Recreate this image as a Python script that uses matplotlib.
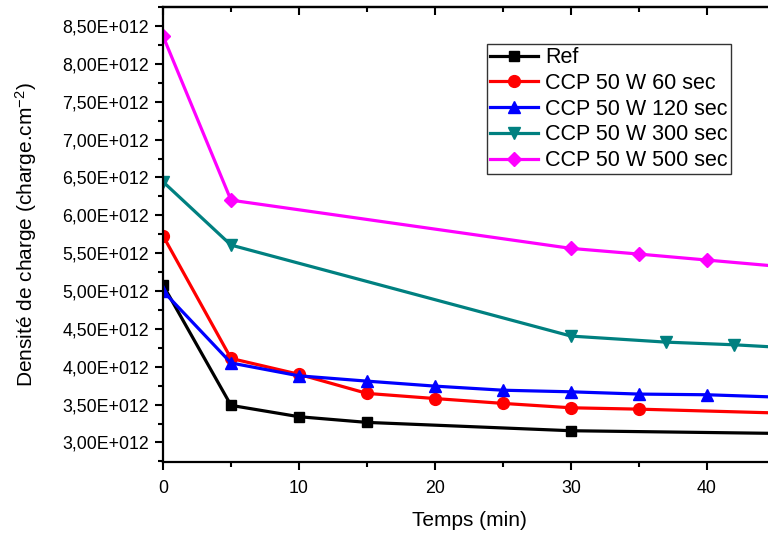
import matplotlib
matplotlib.use("Agg")
import matplotlib.pyplot as plt
from matplotlib.ticker import FuncFormatter, MultipleLocator

plt.rcParams['font.family'] = ['Liberation Sans', 'DejaVu Sans']
plt.rcParams['mathtext.fontset'] = 'custom'
plt.rcParams['mathtext.rm'] = 'Liberation Sans'
plt.rcParams['mathtext.it'] = 'Liberation Sans:italic'
plt.rcParams['mathtext.bf'] = 'Liberation Sans:bold'

# Data (charge density in units of 1e12 charge/cm^2)
x_ref = [0, 5, 10, 15, 30, 45]
y_ref = [5.08, 3.49, 3.34, 3.265, 3.155, 3.12]

x_60 = [0, 5, 10, 15, 20, 25, 30, 35, 45]
y_60 = [5.73, 4.11, 3.90, 3.648, 3.58, 3.516, 3.458, 3.44, 3.39]

x_120 = [0, 5, 10, 15, 20, 25, 30, 35, 40, 45]
y_120 = [5.00, 4.05, 3.88, 3.81, 3.744, 3.69, 3.669, 3.639, 3.63, 3.60]

x_300 = [0, 5, 30, 37, 42, 45]
y_300 = [6.443, 5.607, 4.405, 4.325, 4.29, 4.26]

x_500 = [0, 5, 30, 35, 40, 45]
y_500 = [8.368, 6.20, 5.563, 5.488, 5.409, 5.33]

labels = ["Ref", "CCP 50 W 60 sec", "CCP 50 W 120 sec", "CCP 50 W 300 sec", "CCP 50 W 500 sec"]

fig = plt.figure(figsize=(7.68, 5.35), dpi=100)
W, H = 768, 535
left, right, top, bottom = 163, 775, 6.7, 462
ax = fig.add_axes([left / W, (H - bottom) / H, (right - left) / W, (bottom - top) / H])

series = [
    (x_ref, y_ref, "#000000", "s", 7.5),
    (x_60, y_60, "#FF0000", "o", 8.5),
    (x_120, y_120, "#0000FF", "^", 9),
    (x_300, y_300, "#008080", "v", 9),
    (x_500, y_500, "#FF00FF", "D", 7.5),
]
for (xs, ys, c, m, ms), lab in zip(series, labels):
    ax.plot(xs, [v * 1e12 for v in ys], color=c, marker=m, markersize=ms, lw=2.3,
            label=lab, clip_on=True)

ax.set_xlim(0, 45)
ax.set_ylim(2.742e12, 8.755e12)

ax.xaxis.set_major_locator(MultipleLocator(10))
ax.xaxis.set_minor_locator(MultipleLocator(5))
ax.yaxis.set_major_locator(MultipleLocator(0.5e12))
ax.yaxis.set_minor_locator(MultipleLocator(0.25e12))
ax.yaxis.set_major_formatter(FuncFormatter(
    lambda v, p: ("%.2f" % (v / 1e12)).replace('.', ',') + "E+012"))

for s in ax.spines.values():
    s.set_linewidth(1.6)
ax.tick_params(which='major', direction='out', length=6, width=1.5, labelsize=12.8)
ax.tick_params(axis='x', which='major', pad=7)
ax.tick_params(axis='y', which='major', pad=4)
ax.tick_params(which='minor', direction='out', length=3.3, width=1.5)

sec = ax.secondary_xaxis('top')
sec.xaxis.set_major_locator(MultipleLocator(10))
sec.xaxis.set_minor_locator(MultipleLocator(5))
sec.tick_params(which='major', direction='in', length=6, width=1.5, labelsize=0, labeltop=False)
sec.tick_params(which='minor', direction='in', length=3.3, width=1.5)
sec.spines['top'].set_linewidth(1.6)

ax.set_xlabel("Temps (min)", fontsize=15, labelpad=10)
ax.set_ylabel("Densité de charge (charge.cm$^{\\mathrm{-2}}$)", fontsize=15)
ax.yaxis.set_label_coords(-0.203, 0.5)

leg = ax.legend(loc='upper left', bbox_to_anchor=(0.529, 0.918), fontsize=15.5,
                frameon=True, fancybox=False, framealpha=1, edgecolor='#333333',
                borderpad=0.15, labelspacing=0.22, handlelength=2.25, handletextpad=0.3,
                borderaxespad=0)
leg.get_frame().set_linewidth(1.0)

fig.savefig("out.png", dpi=100)
